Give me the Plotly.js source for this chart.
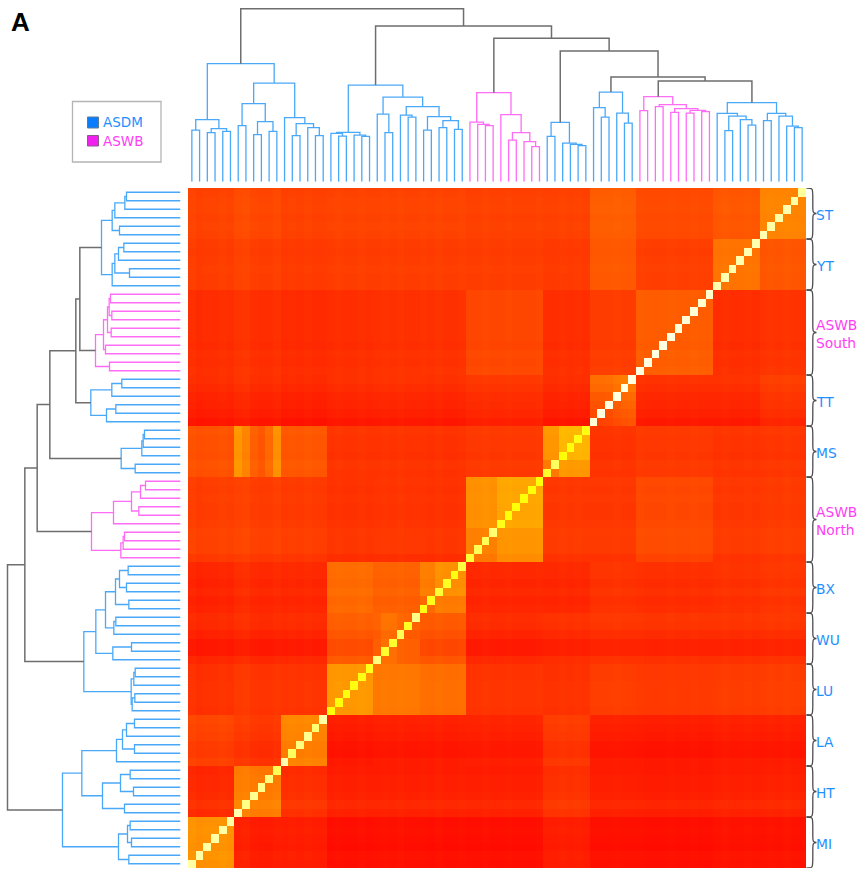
<!DOCTYPE html>
<html>
<head>
<meta charset="utf-8">
<script src="https://cdn.plot.ly/plotly-3.0.1.min.js"></script>
<style>html,body{margin:0;padding:0;background:#fff}#chart{width:859px;height:870px}</style>
</head>
<body>
<div id="chart"></div>
<script>
// ---- Groups, bottom row / left column first ----
const groupNames = ['MI','HT','LA','LU','WU','BX','ASWB<br>North','MS','TT','ASWB<br>South','YT','ST'];
const groupSizes = [6,6,6,6,6,6,10,6,6,10,6,6];
const groupIsWB  = [0,0,0,0,0,0,1,0,0,1,0,0];

// ---- Heat values: 0 red, 255 yellow, 510 white; rows follow groupNames ----
const blockMI = [145,26,28,13,15,13,13,28,15,13,17,17];
const blockHT = [40,120,45,30,30,30,30,48,30,27,30,32];
const blockLA = [65,50,130,24,27,27,30,55,27,24,27,27];
const blockLU = [48,50,50,150,118,108,50,48,60,55,58,60];
const blockWU = [38,38,40,90,95,85,40,45,50,48,48,50];
const blockBX = [35,38,38,105,95,125,38,38,50,45,48,52];
const blockAN = [62,60,58,50,52,50,130,55,55,72,55,58];
const blockMS = [80,90,85,50,50,48,55,150,50,55,50,52];
const blockTT = [38,38,35,40,42,40,48,38,100,42,42,55];
const blockAS = [45,45,42,45,48,48,70,45,60,92,45,50];
const blockYT = [60,60,57,60,60,60,60,57,88,62,115,85];
const blockST = [65,68,63,65,65,65,63,63,92,72,85,130];
const blocks = [blockMI,blockHT,blockLA,blockLU,blockWU,blockBX,blockAN,blockMS,blockTT,blockAS,blockYT,blockST];

const rowShift = [0,3,-2,0,2,0, 2,10,3,0,0,-3, 0,-7,-6,0,3,6, 0,2,2,2,0,0, 0,-15,-15,-5,3,5, 0,-3,3,-2,2,3,
  -6,3,3,4,0,-2,-2,0,-2,0, 0,3,-2,0,0,3, -18,-10,-5,-3,3,8, 3,0,2,-2,0,0,0,0,0,0, 0,0,2,0,-2,0, 0,2,0,3,2,0];
const colShift = [2,-2,0,0,3,0, 6,8,2,0,0,4, 0,2,0,3,0,0, 0,2,0,0,3,0, 0,2,0,3,0,0, 2,0,3,0,0,2,
  0,0,3,0,0,2,0,0,0,2, 0,0,3,0,2,0, 0,0,0,2,0,0, 2,0,0,0,2,0,0,2,0,0, 0,3,0,0,2,0, 0,2,0,3,0,0];
const withinShift = [0,0,0,0,0,0, 0,0,0,0,0,0, 0,0,0,0,0,0, 0,0,0,0,0,0, 0,15,15,0,0,0, -10,-10,8,8,8,8,
  -3,-3,-3,-3,18,18,18,18,18,18, -15,-15,15,15,15,15, -8,-8,-5,0,8,10, 0,0,0,0,0,0,0,0,0,0, 0,0,0,0,0,0, 0,0,0,0,0,0];
const diagonal = [420,420,420,420,420,420, 430,390,400,390,380,340, 430,350,380,400,370,420, 265,265,270,270,275,280,
  380,300,300,340,290,390, 275,280,310,290,270,320, 310,340,340,370,280,262,262,262,262,262,
  300,350,262,265,270,275, 470,480,480,480,480,480, 480,480,480,480,480,470,470,470,460,460,
  430,430,430,430,430,430, 430,420,420,430,420,410];
// MS rows across the HT columns carry two bright stripes
const msOverHT = [150,130,95,85,105,145];

// ---- Dendrogram (shared by both margins): [height, left, right]; numbers are leaves ----
const treeMIHTLA = [354,[186,[155,0,1],[159,[147,2,3],[151,4,5]]],
  [296,[234,[168,6,7],[180,[141,8,9],[151,10,11]]],[192,12,[174,[138,13,14],[162,15,[138,16,17]]]]]];
const treeLUWUBX = [290,[148,[145,18,[137,19,20]],[140,21,[136,22,23]]],
  [254,[203,24,[147,25,26]],[225,[200,27,[194,28,29]],[195,[155,30,31],[183,[162,32,33],[157,34,35]]]]]];
const treeNorth = [267,[179,36,[172,37,[168,38,39]]],[201,40,[147,[125,41,42],[120,43,[105,44,45]]]]];
const treeMS = [178,[136,46,47],[116,48,[112,49,[108,50,51]]]];
const treeTT = [269,[222,52,[194,53,54]],[206,55,[176,56,57]]];
const treeSouth = [255,[213,58,59],[231,[225,60,61],[219,[208,62,63],[214,[206,64,65],[210,66,67]]]]];
const treeYTST = [237,[205,68,[197,[153,69,70],[186,71,[170,72,73]]]],[205,[183,74,75],[197,76,[167,77,[162,78,79]]]]];
const treeRoot = [519,treeMIHTLA,[467,treeLUWUBX,[430,treeNorth,[392,treeMS,[314,treeTT,[302,treeSouth,treeYTST]]]]]];
const blueTrees = [treeMIHTLA,treeLUWUBX,treeMS,treeTT,treeYTST];
const pinkTrees = [treeNorth,treeSouth];

const BLUE='#4aa8f8', PINK='#ff6cf6', GREY='#6e6e6e', TEXTBLUE='#1f8fff', TEXTPINK='#ff3df5';

// ---- Build the matrix ----
const groupOf=[]; groupSizes.forEach((n,g)=>{for(let i=0;i<n;i++)groupOf.push(g);});
const groupStart=[]; groupSizes.reduce((a,n,g)=>{groupStart[g]=a;return a+n;},0);
const N=groupOf.length;
const z=[];
for(let r=0;r<N;r++){
  const row=[];
  for(let c=0;c<N;c++){
    const gr=groupOf[r], gc=groupOf[c];
    let v;
    if(r===c) v=diagonal[r];
    else if(groupNames[gr]==='MS'&&groupNames[gc]==='HT') v=msOverHT[c-groupStart[gc]]+rowShift[r];
    else {
      v=blocks[gr][gc]+rowShift[r]+colShift[c];
      if(gr===gc) v+=withinShift[r]+withinShift[c];
    }
    row.push(Math.max(0,v));
  }
  z.push(row);
}

// ---- Dendrogram segments ----
const segs={[BLUE]:{p:[],h:[]},[PINK]:{p:[],h:[]},[GREY]:{p:[],h:[]}};
function walk(node,color){
  if(typeof node==='number') return {pos:node,h:0};
  if(blueTrees.includes(node)) color=BLUE;
  if(pinkTrees.includes(node)) color=PINK;
  const a=walk(node[1],color), b=walk(node[2],color);
  const s=segs[color];
  s.p.push(a.pos,a.pos,b.pos,b.pos,null);
  s.h.push(a.h,node[0],node[0],b.h,null);
  return {pos:(a.pos+b.pos)/2,h:node[0]};
}
walk(treeRoot,GREY);

const traces=[{type:'heatmap',z:z,xaxis:'x',yaxis:'y',zmin:0,zmax:510,showscale:false,hoverinfo:'skip',
  colorscale:[[0,'#ff0000'],[0.5,'#ffff00'],[1,'#ffffff']]}];
for(const col of [BLUE,PINK,GREY]){
  const w=col===GREY?1.5:1.3;
  traces.push({type:'scatter',mode:'lines',x:segs[col].p,y:segs[col].h,xaxis:'x',yaxis:'y2',cliponaxis:false,
    line:{color:col,width:w},hoverinfo:'skip',showlegend:false});
  traces.push({type:'scatter',mode:'lines',x:segs[col].h,y:segs[col].p,xaxis:'x3',yaxis:'y',cliponaxis:false,
    line:{color:col,width:w},hoverinfo:'skip',showlegend:false});
}

// ---- Braces and group labels ----
const W=859,H=870,px=v=>v/W,py=v=>1-v/H;
const shapes=[], annotations=[];
groupSizes.forEach((n,g)=>{
  const lo=groupStart[g]-0.5, hi=lo+n, mid=(lo+hi)/2;
  const xe=px(806.5), xv=px(812.8), xt=px(816.5);
  shapes.push({type:'path',xref:'paper',yref:'y',line:{color:'#4d4d4d',width:1.3},
    path:`M${xe},${hi} C${xv},${hi} ${xv},${hi} ${xv},${hi-1.2} L${xv},${mid+0.8} C${xv},${mid+0.2} ${xv},${mid} ${xt},${mid} `+
         `C${xv},${mid} ${xv},${mid-0.2} ${xv},${mid-0.8} L${xv},${lo+1.2} C${xv},${lo} ${xv},${lo} ${xe},${lo}`});
  annotations.push({xref:'paper',yref:'y',x:px(813.8),y:mid-0.2,xanchor:'left',yanchor:'middle',showarrow:false,
    text:groupNames[g],align:'left',font:{family:'DejaVu Sans',size:13.8,color:groupIsWB[g]?TEXTPINK:TEXTBLUE}});
});

// ---- Panel letter and key ----
annotations.push({xref:'paper',yref:'paper',x:px(8.5),y:py(22),xanchor:'left',yanchor:'middle',showarrow:false,
  text:'<b>A</b>',font:{family:'Liberation Sans',size:26,color:'#000000'}});
shapes.push({type:'rect',xref:'paper',yref:'paper',x0:px(72.5),x1:px(161),y0:py(101.5),y1:py(162),
  line:{color:'#b4b4b4',width:1.3},fillcolor:'rgba(0,0,0,0)'});
shapes.push({type:'rect',xref:'paper',yref:'paper',x0:px(87.5),x1:px(98.5),y0:py(117),y1:py(128),
  line:{color:'#5a7a9a',width:1},fillcolor:'#0a7dff'});
shapes.push({type:'rect',xref:'paper',yref:'paper',x0:px(87.5),x1:px(98.5),y0:py(135.5),y1:py(146),
  line:{color:'#8a5a8a',width:1},fillcolor:'#f020f0'});
annotations.push({xref:'paper',yref:'paper',x:px(101),y:py(122.5),xanchor:'left',yanchor:'middle',showarrow:false,
  text:'ASDM',font:{family:'DejaVu Sans',size:13.5,color:TEXTBLUE}});
annotations.push({xref:'paper',yref:'paper',x:px(101),y:py(141),xanchor:'left',yanchor:'middle',showarrow:false,
  text:'ASWB',font:{family:'DejaVu Sans',size:13.5,color:TEXTPINK}});

const hidden={visible:false,showgrid:false,zeroline:false};
const layout={width:W,height:H,margin:{l:0,r:0,t:0,b:0},paper_bgcolor:'#ffffff',plot_bgcolor:'rgba(0,0,0,0)',showlegend:false,
  xaxis:{...hidden,domain:[px(188),px(806)],range:[-0.5,N-0.5],anchor:'y'},
  yaxis:{...hidden,domain:[py(868),py(188)],range:[-0.5,N-0.5],anchor:'x'},
  yaxis2:{...hidden,domain:[py(181.7),py(1.7)],range:[0,540],anchor:'x'},
  xaxis3:{...hidden,domain:[px(0.5),px(180.5)],range:[540,0],anchor:'y'},
  shapes:shapes,annotations:annotations};
Plotly.newPlot('chart',traces,layout,{displayModeBar:false,staticPlot:true});
</script>
</body>
</html>
